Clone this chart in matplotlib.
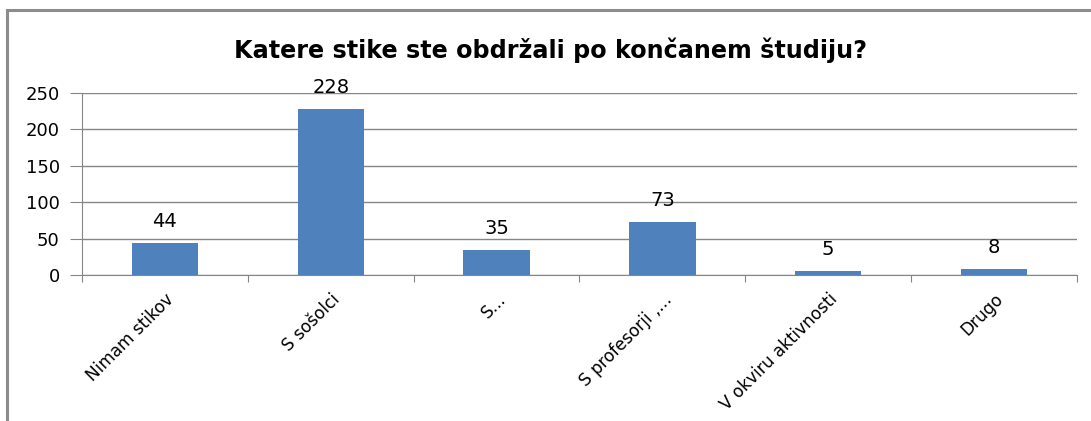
import matplotlib.pyplot as plt
import numpy as np
from matplotlib.patches import Rectangle

# chart data
categories = ["Nimam stikov", "S sošolci", "S...", "S profesorji ,...",
              "V okviru aktivnosti", "Drugo"]
values = [44, 228, 35, 73, 5, 8]
y_ticks = [0, 50, 100, 150, 200, 250]
title = "Katere stike ste obdržali po končanem študiju?"

bar_color = "#4F81BD"
axis_color = "#868686"

plt.rcParams['font.family'] = ['DejaVu Sans']

fig = plt.figure(figsize=(10.91, 4.21), dpi=100)
fig.patch.set_facecolor("white")

# outer chart border (only top/left visible in the crop)
fig.add_artist(Rectangle((7 / 1091, -0.1), 1.2, (421 - 10) / 421 + 0.1,
                         transform=fig.transFigure, fill=False,
                         edgecolor="#8c8c8c", linewidth=2.2))

ax = fig.add_axes([82 / 1091, 146 / 421, 995 / 1091, 182 / 421])

x = np.arange(len(categories))
ax.bar(x, values, width=0.4, color=bar_color, zorder=3)

for xi, v in zip(x, values):
    ax.annotate(str(v), (xi, v), xytext=(0, 11.5), textcoords="offset points",
                ha="center", va="baseline", fontsize=14, color="black")

ax.set_xlim(-0.5, len(categories) - 0.5)
ax.set_ylim(0, 250)
ax.set_yticks(y_ticks)
ax.set_yticklabels([str(t) for t in y_ticks])
ax.yaxis.grid(True, color=axis_color, linewidth=1)
ax.set_axisbelow(True)

# ticks on the boundaries, labels in the middle
ax.set_xticks(np.arange(len(categories) + 1) - 0.5)
ax.set_xticklabels([])
ax.set_xticks(x, minor=True)
ax.set_xticklabels(categories, minor=True, rotation=45, ha="right",
                   va="top", rotation_mode="anchor", fontsize=12.2)
ax.tick_params(axis="x", which="minor", length=0, pad=11)
ax.tick_params(axis="x", which="major", length=5, color=axis_color, direction="out")
ax.tick_params(axis="y", length=9, color=axis_color, labelsize=13, pad=7)

for s in ["top", "right"]:
    ax.spines[s].set_visible(False)
ax.spines["left"].set_color(axis_color)
ax.spines["bottom"].set_color(axis_color)

fig.text(550 / 1091, 1 - 50 / 421, title, ha="center", va="center",
         fontsize=17.2, fontweight="bold")

fig.savefig("out.png", dpi=100)
